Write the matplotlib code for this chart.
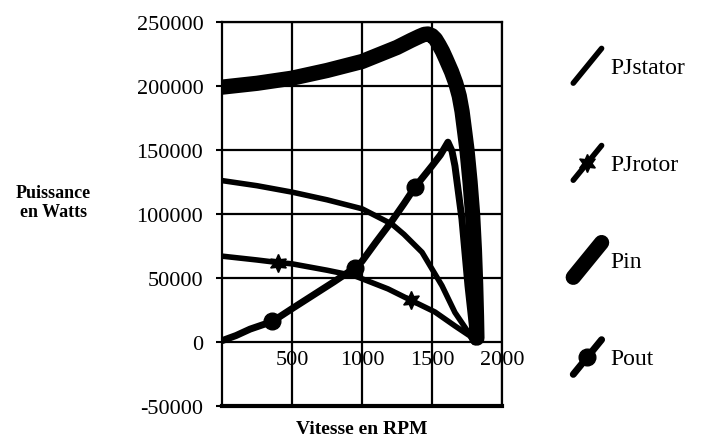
import numpy as np
import matplotlib
matplotlib.use("Agg")
import matplotlib.pyplot as plt
from matplotlib.legend_handler import HandlerLine2D

plt.rcParams["axes.unicode_minus"] = False

# speed (RPM) and powers (W)
pin_x = [0, 250, 500, 750, 1000, 1250, 1350, 1410, 1445, 1471, 1500, 1525, 1550, 1575, 1600,
         1640, 1670, 1695, 1715, 1735, 1750, 1772, 1790, 1803, 1812, 1818, 1821]
pin_y = [199000, 202000, 206000, 212000, 219000, 230000, 235500, 238600, 240200, 240500,
         239200, 236500, 232000, 227000, 221000, 211000, 202000, 192000, 180000, 163000,
         150000, 125000, 100000, 72000, 45000, 20000, 3000]

pout_x = [0, 100, 200, 360, 500, 600, 700, 800, 950, 1000, 1100, 1214, 1300, 1379, 1500,
          1560, 1614, 1643, 1664, 1714, 1757, 1793, 1805]
pout_y = [1000, 5000, 10000, 16000, 26000, 33000, 40000, 47000, 58000, 63000, 78000, 94500,
          108000, 121000, 137500, 146000, 156000, 149000, 137500, 96000, 44000, 8000, 0]
pout_marks = [3, 8, 13]

stator_x = [0, 250, 500, 750, 1000, 1214, 1300, 1429, 1571, 1664, 1757, 1800]
stator_y = [126000, 122000, 117000, 111000, 104000, 92000, 84000, 70000, 44000, 23000, 8000, 0]

rotor_x = [0, 250, 400, 500, 750, 950, 1186, 1350, 1521, 1664, 1771, 1800]
rotor_y = [67000, 64000, 62000, 61000, 56000, 51500, 41400, 32500, 23400, 12500, 4700, 0]
rotor_marks = [2, 7]

xticks = [500, 1000, 1500, 2000]
yticks = [-50000, 0, 50000, 100000, 150000, 200000, 250000]

serif = "Liberation Serif"


class DiagHandler(HandlerLine2D):
    # legend keys drawn as short slanted strokes
    def create_artists(self, legend, orig_handle, xdescent, ydescent, width, height, fontsize, trans):
        arts = super().create_artists(legend, orig_handle, xdescent, ydescent, width, height, fontsize, trans)
        for a in arts:
            a.set_data(np.linspace(0, width, 3), np.linspace(-0.6 * height, 1.5 * height, 3))
        return arts


fig = plt.figure(figsize=(7.05, 4.39), dpi=100)
ax = fig.add_axes([0.315, 0.073, 0.397, 0.875])

ax.set_xlim(0, 2000)
ax.set_ylim(-50000, 250000)
ax.set_xticks(xticks)
ax.set_yticks(yticks)
ax.grid(True, color="black", linewidth=1.6)
ax.set_axisbelow(True)

l1, = ax.plot(stator_x, stator_y, color="black", lw=4, solid_capstyle="round", label="PJstator")
l2, = ax.plot(rotor_x, rotor_y, color="black", lw=4, marker=(6, 1, 0), ms=13,
              markevery=rotor_marks, solid_capstyle="round", label="PJrotor")
l3, = ax.plot(pin_x, pin_y, color="black", lw=11, solid_capstyle="round",
              solid_joinstyle="round", label="Pin")
l4, = ax.plot(pout_x, pout_y, color="black", lw=5, marker="o", ms=12,
              markevery=pout_marks, solid_capstyle="round", label="Pout")

for s in ax.spines.values():
    s.set_linewidth(1.6)
ax.spines["bottom"].set_position(("data", 0))
ax.spines["bottom"].set_visible(False)
ax.tick_params(axis="x", length=0, pad=6, labelsize=16)
ax.tick_params(axis="y", length=4, width=1.5, labelsize=16, pad=9.5)
for lab in ax.get_xticklabels() + ax.get_yticklabels():
    lab.set_family(serif)
# frame bottom edge at -50000
ax.axhline(-50000, color="black", lw=3, clip_on=False)

fig.text(0.076, 0.538, "Puissance\nen Watts", ha="center", va="center",
         fontsize=13, fontweight="bold", family=serif, linespacing=1.15)
fig.text(0.513, 0.022, "Vitesse en RPM", ha="center", va="center",
         fontsize=14, fontweight="bold", family=serif)

handles = [l1, l2, l3, l4]
leg = ax.legend(handles=handles, loc="upper left", bbox_to_anchor=(0.783, 0.917),
                bbox_transform=fig.transFigure, frameon=False,
                labelspacing=3.2, handlelength=1.2, handletextpad=0.35,
                handler_map={h: DiagHandler(numpoints=1) for h in handles},
                prop={"family": serif, "size": 17})

fig.savefig("out.png", dpi=100)
